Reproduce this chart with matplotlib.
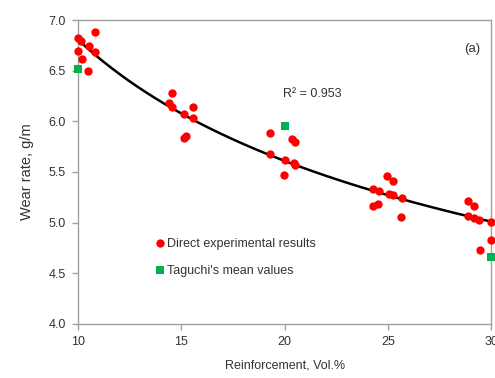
import numpy as np
import matplotlib
matplotlib.use("Agg")
import matplotlib.pyplot as plt

plt.rcParams['font.family'] = ['Liberation Sans', 'DejaVu Sans']

# Direct experimental results
exp_x = [10.79, 10.0, 10.0, 10.18, 10.47, 10.53, 10.82, 10.15,
         14.56, 14.4, 14.56, 15.57, 15.14, 15.57, 15.14, 15.22,
         19.28, 20.34, 20.48, 19.28, 20.0, 20.43, 20.5, 19.97,
         24.94, 25.23, 24.27, 24.56, 25.04, 25.27, 25.67, 24.51, 24.27, 25.64,
         28.86, 29.18, 28.86, 29.18, 29.42, 30.0, 30.0, 29.45]
exp_y = [6.88, 6.82, 6.69, 6.62, 6.50, 6.74, 6.68, 6.79,
         6.28, 6.18, 6.14, 6.14, 6.07, 6.03, 5.84, 5.86,
         5.88, 5.83, 5.80, 5.68, 5.62, 5.59, 5.57, 5.47,
         5.46, 5.41, 5.33, 5.31, 5.28, 5.27, 5.24, 5.18, 5.16, 5.06,
         5.21, 5.16, 5.07, 5.05, 5.03, 5.01, 4.83, 4.73]

# Taguchi's mean values
tag_x = [10, 20, 30]
tag_y = [6.52, 5.95, 4.66]

x_ticks = [10, 15, 20, 25, 30]
y_ticks = [4.0, 4.5, 5.0, 5.5, 6.0, 6.5, 7.0]

fig = plt.figure(figsize=(4.95, 3.78), dpi=100)
ax = fig.add_axes([0.158, 0.143, 0.834, 0.804])

# power trendline fitted to the experimental data
b, loga = np.polyfit(np.log(exp_x), np.log(exp_y), 1)
xs = np.linspace(10, 30, 200)
ax.plot(xs, np.exp(loga) * xs ** b, color='black', lw=1.8, zorder=2)

ax.scatter(exp_x, exp_y, s=36, color='#ff0000', marker='o', linewidths=0,
           zorder=3, clip_on=False, label='Direct experimental results')
ax.scatter(tag_x, tag_y, s=36, color='#00b050', marker='s', linewidths=0,
           zorder=3, clip_on=False, label="Taguchi's mean values")

ax.set_xlim(10, 30)
ax.set_ylim(4.0, 7.0)
ax.set_xticks(x_ticks)
ax.set_xticklabels([str(v) for v in x_ticks])
ax.set_yticks(y_ticks)
ax.set_yticklabels([f"{v:.1f}" for v in y_ticks])

tc = '#333333'
for s in ax.spines.values():
    s.set_color('#a0a0a0')
    s.set_linewidth(1.0)
ax.tick_params(direction='out', length=4, width=1, color='#a0a0a0',
               labelsize=9, labelcolor=tc, pad=5)

ax.set_xlabel('Reinforcement, Vol.%', fontsize=9, color=tc, labelpad=8)
ax.set_ylabel('Wear rate, g/m', fontsize=10.5, color=tc, labelpad=10)

ax.text(0.497, 0.755, 'R² = 0.953', transform=ax.transAxes, fontsize=9,
        color=tc, va='center')
ax.text(0.955, 0.905, '(a)', transform=ax.transAxes, fontsize=9.5,
        color=tc, ha='center', va='center')

leg = ax.legend(loc='upper left', bbox_to_anchor=(0.17, 0.30), frameon=False,
                fontsize=9, handletextpad=0.1, handlelength=1.0,
                labelspacing=1.2, borderaxespad=0)
for t in leg.get_texts():
    t.set_color(tc)

fig.savefig('out.png', dpi=100)
